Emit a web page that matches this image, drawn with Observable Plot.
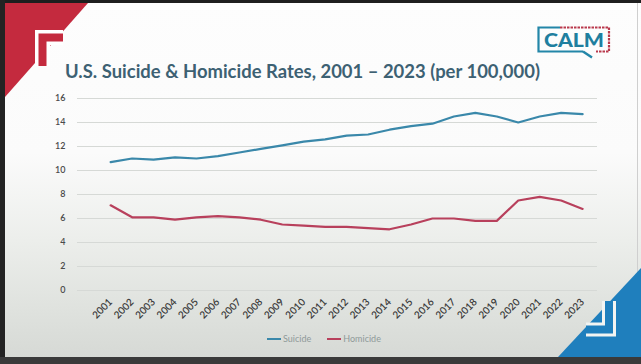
<!DOCTYPE html>
<html>
<head>
<meta charset="utf-8">
<script src="https://cdn.jsdelivr.net/npm/d3@7"></script>
<script src="https://cdn.jsdelivr.net/npm/@observablehq/plot@0.6"></script>
<style>
  html, body { margin: 0; padding: 0; }
  body { width: 641px; height: 364px; overflow: hidden; font-family: Lato, "Open Sans", sans-serif; }
  #slide {
    position: relative; width: 641px; height: 364px; overflow: hidden;
    background: linear-gradient(to bottom, #fdfdfd 0%, #fbfbfb 42%, #eceeeb 66%, #dfe2de 85%, #d5d8d4 100%);
  }
  #deco { position: absolute; left: 0; top: 0; }
  #chart { position: absolute; left: 0; top: 88px; }
  #legend {
    position: absolute; top: 333px; left: 267px;
    display: flex; gap: 16px; align-items: center;
    font: 9px Lato, sans-serif; color: #8f9a99;
  }
  #legend span.item { display: flex; align-items: center; gap: 2px; }
  #legend span.sw { display: inline-block; width: 14px; height: 2px; }
</style>
</head>
<body>
<div id="slide">
  <svg id="deco" width="641" height="364">
    <!-- photographed frame edges -->
    <rect x="0" y="0" width="641" height="3" fill="#1e1e1e"/>
    <rect x="0" y="0" width="5" height="364" fill="#232323"/>
    <rect x="0" y="357" width="641" height="7" fill="#3a3a3a"/>
    <rect x="637" y="3" width="1" height="354" fill="#cfcfcf"/>
    <!-- red corner -->
    <polygon points="5,3 88,3 5,97" fill="#c42a3e"/>
    <path d="M42.5,66 V37.5 H63" fill="none" stroke="#ffffff" stroke-width="15"/>
    <path d="M42.5,66 V37.5 H63" fill="none" stroke="#c42a3e" stroke-width="8"/>
    <!-- blue corner -->
    <polygon points="558,357 641,268 641,357" fill="#1f7fbd"/>
    <path d="M609,301 V329.5 H586" fill="none" stroke="#f2f4f2" stroke-width="14"/>
    <path d="M609,301 V329.5 H586" fill="none" stroke="#1f7fbd" stroke-width="8"/>
    <!-- title -->
    <text x="65" y="77.5" font-family="Lato, sans-serif" font-weight="700" font-size="19.5"
          fill="#3d6173" textLength="475" lengthAdjust="spacingAndGlyphs">U.S. Suicide &amp; Homicide Rates, 2001 – 2023 (per 100,000)</text>
    <!-- CALM badge -->
    <path d="M560,27.5 H538.5 V51.5 H583" fill="none" stroke="#2386a8" stroke-width="2.2"/>
    <path d="M560,27.5 H609 V51.5 H596" fill="none" stroke="#b9394c" stroke-width="2.2" stroke-dasharray="2.5 1"/>
    <path d="M583,51.5 L592,57.5" fill="none" stroke="#2386a8" stroke-width="2.4"/>
    <text x="574" y="47" text-anchor="middle" font-family="Lato, sans-serif" font-weight="900"
          font-size="19" fill="#1f7f9f" textLength="60" lengthAdjust="spacingAndGlyphs">CALM</text>
  </svg>
  <div id="chart"></div>
  <div id="legend"></div>
</div>
<script>
// Rates per 100,000 people, 2001–2023
const years = [2001, 2002, 2003, 2004, 2005, 2006, 2007, 2008, 2009, 2010, 2011, 2012,
               2013, 2014, 2015, 2016, 2017, 2018, 2019, 2020, 2021, 2022, 2023];
const suicide = [10.7, 11.0, 10.9, 11.1, 11.0, 11.2, 11.5, 11.8, 12.1, 12.4, 12.6, 12.9,
                 13.0, 13.4, 13.7, 13.9, 14.5, 14.8, 14.5, 14.0, 14.5, 14.8, 14.7];
const homicide = [7.1, 6.1, 6.1, 5.9, 6.1, 6.2, 6.1, 5.9, 5.5, 5.4, 5.3, 5.3,
                  5.2, 5.1, 5.5, 6.0, 6.0, 5.8, 5.8, 7.5, 7.8, 7.5, 6.8];
const seriesNames = ["Suicide", "Homicide"];
const seriesColors = ["#3a88aa", "#b8405c"];
const yTicks = [0, 2, 4, 6, 8, 10, 12, 14, 16];

const rows = years.flatMap((year, i) => [
  {year, series: seriesNames[0], rate: suicide[i]},
  {year, series: seriesNames[1], rate: homicide[i]}
]);

const chart = Plot.plot({
  width: 641,
  height: 240,
  marginTop: 10,
  marginBottom: 38,
  marginLeft: 77,
  marginRight: 44,
  style: {background: "transparent", fontFamily: "Lato, sans-serif"},
  x: {type: "point", domain: years, padding: 1.12, align: 0.69, round: false, label: null},
  y: {domain: [0, 16], label: null},
  color: {domain: seriesNames, range: seriesColors},
  marks: [
    Plot.gridY(yTicks, {stroke: "#d6d9d6", strokeOpacity: 1, strokeWidth: 1}),
    Plot.axisY(yTicks, {tickSize: 0, tickPadding: 12, fontSize: 9, fill: "#4a4a4a", fontWeight: 600}),
    Plot.axisX(years, {tickSize: 0, tickPadding: 10, tickRotate: -45, fontSize: 10,
                       fill: "#3a3a3a", fontWeight: 600, tickFormat: d => String(d)}),
    Plot.line(rows, {x: "year", y: "rate", z: "series", stroke: "series", strokeWidth: 2.2,
                     strokeLinejoin: "round"})
  ]
});
document.getElementById("chart").appendChild(chart);

const legend = document.getElementById("legend");
seriesNames.forEach((name, i) => {
  const item = document.createElement("span");
  item.className = "item";
  const sw = document.createElement("span");
  sw.className = "sw";
  sw.style.background = seriesColors[i];
  item.appendChild(sw);
  item.appendChild(document.createTextNode(name));
  legend.appendChild(item);
});
</script>
</body>
</html>
